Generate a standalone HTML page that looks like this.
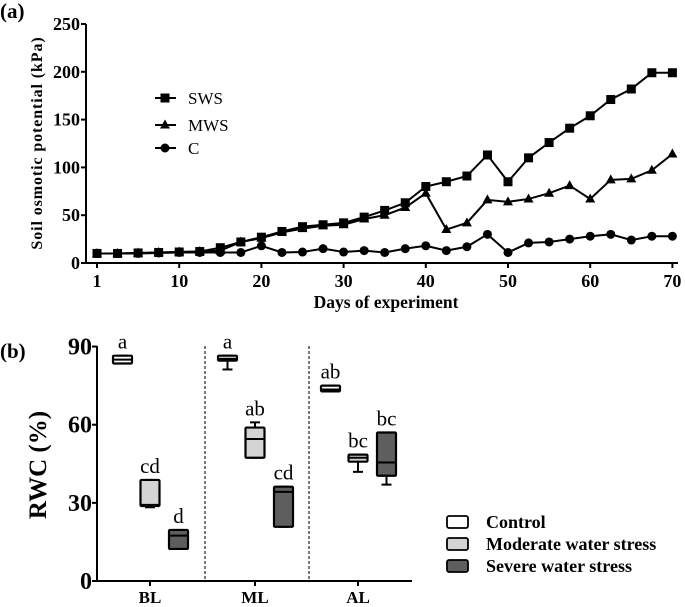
<!DOCTYPE html>
<html><head><meta charset="utf-8"><style>
body{margin:0;background:#fff}
svg{display:block;font-family:"Liberation Serif",serif}
</style></head><body>
<svg id="c" width="685" height="607" viewBox="0 0 685 607">
<text x="0" y="18" font-size="21" font-weight="bold">(a)</text>
<text x="0" y="358" font-size="21" font-weight="bold">(b)</text>
<g id="ga"></g>
<g id="gb"></g>
</svg>
<script>
const days=[0,2.5,5,7.5,10,12.5,15,17.5,20,22.5,25,27.5,30,32.5,35,37.5,40,42.5,45,47.5,50,52.5,55,57.5,60,62.5,65,67.5,70];
const sws=[10,10,10.5,11,11.5,12,16,22,27,33,38,40,42,48,55,63,80,85,91,113,85,110,126,141,154,171,182,199,199];
const mws=[10,10,10.5,11,11.5,12,13,22,26,32,36,39,40,46,50,58,73,35,42,66,64,67,73,81,67,87,88,97,114];
const ctl=[10,10,10,10.5,11,11,11,11,18,11,11.5,15,11.5,13,11,15,18,13,17,30,11,21,22,25,28,30,24,28,28];
const xTicks=[0,10,20,30,40,50,60,70];
const xTickLabels=["1","10","20","30","40","50","60","70"];
const yTicksA=[0,50,100,150,200,250];

const groups=["BL","ML","AL"];
const treatments=["Control","Moderate water stress","Severe water stress"];
const fills=["#ffffff","#d4d4d4","#5e5e5e"];
// [min,q1,median,q3,max]
const bl=[[83.5,83.5,85,86.5,86.5],[28.3,28.8,29.2,38.8,38.8],[12.3,12.3,17.4,19.6,19.6]];
const ml=[[81.2,84.6,85.3,86.5,86.5],[47.3,47.3,54.5,58.9,60.9],[20.8,20.8,34.2,36.2,36.2]];
const al=[[72.8,72.8,73.5,75,75],[41.9,45.8,47.3,48.5,48.5],[37,40.4,45.5,57,57]];
const letters=[["a","cd","d"],["a","ab","cd"],["ab","bc","bc"]];
const yTicksB=[0,30,60,90];

const NS="http://www.w3.org/2000/svg";
function mk(p,t,a){const e=document.createElementNS(NS,t);for(const k in a)e.setAttribute(k,a[k]);p.appendChild(e);return e;}
// Panel A
const ga=document.getElementById('ga');
const xA=d=>97+d*8.22, yA=v=>263-v*0.956;
let e;
e=mk(ga,'line',{x1:86,y1:24,x2:86,y2:264,stroke:'#000','stroke-width':2});

e=mk(ga,'line',{x1:85,y1:263,x2:678,y2:263,stroke:'#000','stroke-width':2});

yTicksA.forEach(v=>{mk(ga,'line',{x1:81,y1:yA(v),x2:86,y2:yA(v),stroke:'#000','stroke-width':2});
 e=mk(ga,'text',{x:80,y:yA(v)+6,'font-size':18,'font-weight':'bold','text-anchor':'end'});e.textContent=v;
 });
xTicks.forEach((d,i)=>{mk(ga,'line',{x1:xA(d),y1:263,x2:xA(d),y2:268,stroke:'#000','stroke-width':2});
 e=mk(ga,'text',{x:xA(d),y:287,'font-size':18,'font-weight':'bold','text-anchor':'middle'});e.textContent=xTickLabels[i];
 });
e=mk(ga,'text',{x:386,y:308,'font-size':17.5,'font-weight':'bold','text-anchor':'middle'});e.textContent='Days of experiment';

e=mk(ga,'text',{transform:'translate(42,143) rotate(-90)','font-size':16,'font-weight':'bold','text-anchor':'middle','letter-spacing':'0.9'});e.textContent='Soil osmotic potential  (kPa)';

function marker(g,shape,x,y){
 if(shape==='sq')return mk(g,'rect',{x:x-4.5,y:y-4.5,width:9,height:9,fill:'#000'});
 if(shape==='tri')return mk(g,'polygon',{points:`${x},${y-5.5} ${x-5},${y+3.5} ${x+5},${y+3.5}`,fill:'#000'});
 return mk(g,'circle',{cx:x,cy:y,r:4.5,fill:'#000'});
}
[[ctl,'ci','C'],[mws,'tri','MWS'],[sws,'sq','SWS']].forEach(([arr,sh,nm])=>{
 const g=mk(ga,'g',{});
 mk(g,'polyline',{points:arr.map((v,i)=>xA(days[i])+','+yA(v)).join(' '),fill:'none',stroke:'#000','stroke-width':2});
 arr.forEach((v,i)=>{const m=marker(g,sh,xA(days[i]),yA(v));});
});
[['SWS','sq',98],['MWS','tri',125],['C','ci',148]].forEach(([nm,sh,y])=>{
 const g=mk(ga,'g',{});
 mk(g,'line',{x1:155,y1:y,x2:176,y2:y,stroke:'#000','stroke-width':2});marker(g,sh,165,y);
 const t=mk(g,'text',{x:188,y:y+6,'font-size':17});t.textContent=nm;
});
// Panel B
const gb=document.getElementById('gb');
const yB=v=>581-v*2.605;
const cx=[150,255,358], off=[-27.5,0,28.5], bw=19;
e=mk(gb,'line',{x1:97,y1:346,x2:97,y2:582,stroke:'#000','stroke-width':2});

e=mk(gb,'line',{x1:96,y1:581,x2:412,y2:581,stroke:'#000','stroke-width':2});

yTicksB.forEach(v=>{mk(gb,'line',{x1:92,y1:yB(v),x2:97,y2:yB(v),stroke:'#000','stroke-width':2});
 e=mk(gb,'text',{x:92,y:yB(v)+8,'font-size':24,'font-weight':'bold','text-anchor':'end'});e.textContent=v;
 });
e=mk(gb,'text',{transform:'translate(46,465) rotate(-90)','font-size':25,'font-weight':'bold','text-anchor':'middle'});e.textContent='RWC (%)';

[205,309].forEach(x=>{e=mk(gb,'line',{x1:x,y1:346,x2:x,y2:581,stroke:'#333','stroke-width':1.3,'stroke-dasharray':'3,2'});
 });
const data=[bl,ml,al];
groups.forEach((gname,gi)=>{
 mk(gb,'line',{x1:cx[gi],y1:581,x2:cx[gi],y2:586,stroke:'#000','stroke-width':2});
 e=mk(gb,'text',{x:cx[gi],y:603,'font-size':17,'font-weight':'bold','text-anchor':'middle'});e.textContent=gname;
 
 data[gi].forEach((s,ti)=>{
  const g=mk(gb,'g',{});
  const c=cx[gi]+off[ti];
  mk(g,'line',{x1:c,y1:yB(s[0]),x2:c,y2:yB(s[4]),stroke:'#000','stroke-width':2});
  [s[0],s[4]].forEach(v=>mk(g,'line',{x1:c-5,y1:yB(v),x2:c+5,y2:yB(v),stroke:'#000','stroke-width':2}));
  mk(g,'rect',{x:c-bw/2,y:yB(s[3]),width:bw,height:Math.max(2,yB(s[1])-yB(s[3])),fill:fills[ti],stroke:'#000','stroke-width':2.2,rx:1});
  mk(g,'line',{x1:c-bw/2,y1:yB(s[2]),x2:c+bw/2,y2:yB(s[2]),stroke:'#000','stroke-width':2});
  const t=mk(gb,'text',{x:c,y:yB(s[4])-7,'font-size':21,'text-anchor':'middle'});t.textContent=letters[gi][ti];
  
 });
});
treatments.forEach((nm,i)=>{
 const g=mk(gb,'g',{});
 const y=522+i*22;
 mk(g,'rect',{x:447,y:y-6,width:21,height:12,fill:fills[i],stroke:'#000','stroke-width':1.8,rx:2});
 const t=mk(g,'text',{x:486,y:y+6,'font-size':18,'font-weight':'bold'});t.textContent=nm;
});
</script>
</body></html>
